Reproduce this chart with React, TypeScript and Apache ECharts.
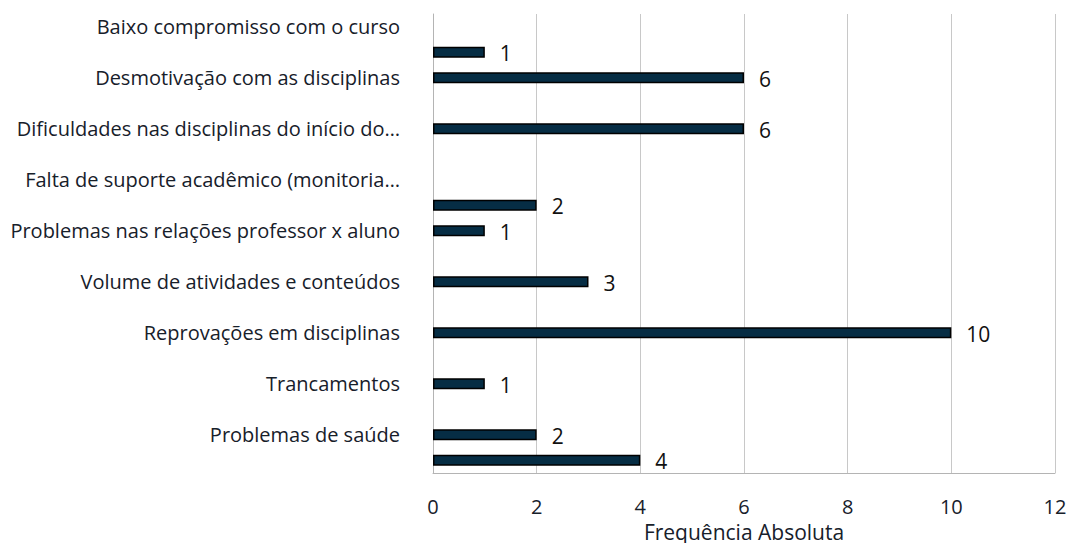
import React, { useEffect, useRef } from "react";
import * as echarts from "echarts";

const categories: string[] = [
  "Baixo compromisso com o curso",
  "",
  "Desmotivação com as disciplinas",
  "",
  "Dificuldades nas disciplinas do início do…",
  "",
  "Falta de suporte acadêmico (monitoria…",
  "",
  "Problemas nas relações professor x aluno",
  "",
  "Volume de atividades e conteúdos",
  "",
  "Reprovações em disciplinas",
  "",
  "Trancamentos",
  "",
  "Problemas de saúde",
  "",
];

const values: (number | null)[] = [
  null, 1, 6, null, 6, null, null, 2, 1, null, 3, null, 10, null, 1, null, 2, 4,
];

const xTicks = { min: 0, max: 12, interval: 2 };
const xAxisName = "Frequência Absoluta";

export default function App() {
  const ref = useRef<HTMLDivElement>(null);
  useEffect(() => {
    if (!ref.current) return;
    const chart = echarts.init(ref.current, null, { renderer: "svg" });
    const font = "Open Sans";
    chart.setOption({
      animation: false,
      backgroundColor: "#ffffff",
      grid: {
        left: 433,
        right: 14,
        top: 14,
        bottom: 70,
        containLabel: false,
        outerBoundsMode: "none",
      },
      xAxis: {
        type: "value",
        min: xTicks.min,
        max: xTicks.max,
        interval: xTicks.interval,
        name: xAxisName,
        nameLocation: "middle",
        nameGap: 50,
        nameMoveOverlap: false,
        nameTextStyle: { fontFamily: font, fontSize: 21, lineHeight: 18, color: "#17202a" },
        axisLine: { show: true, lineStyle: { color: "#b4b4b4", width: 1 } },
        axisTick: { show: false },
        axisLabel: {
          fontFamily: font,
          fontSize: 20,
          lineHeight: 18,
          color: "#17202a",
          margin: 24,
        },
        splitLine: { show: true, lineStyle: { color: "#c8c8c8", width: 1 } },
      },
      yAxis: {
        type: "category",
        inverse: true,
        data: categories,
        axisLine: { show: true, lineStyle: { color: "#b4b4b4", width: 1 } },
        axisTick: { show: false },
        axisLabel: {
          interval: 0,
          fontFamily: font,
          fontSize: 20,
          color: "#17202a",
          margin: 33,
        },
        splitLine: { show: false },
      },
      series: [
        {
          type: "bar",
          data: values,
          barWidth: 11,
          itemStyle: { color: "#062d44", borderColor: "#000000", borderWidth: 1.5 },
          label: {
            show: true,
            position: "right",
            distance: 15,
            offset: [0, 1],
            fontFamily: font,
            fontSize: 21,
            color: "#111111",
          },
        },
      ],
    });
    return () => chart.dispose();
  }, []);
  return (
    <div
      ref={ref}
      style={{ position: "fixed", left: 0, top: 0, width: 1069, height: 543, background: "#fff" }}
    />
  );
}
